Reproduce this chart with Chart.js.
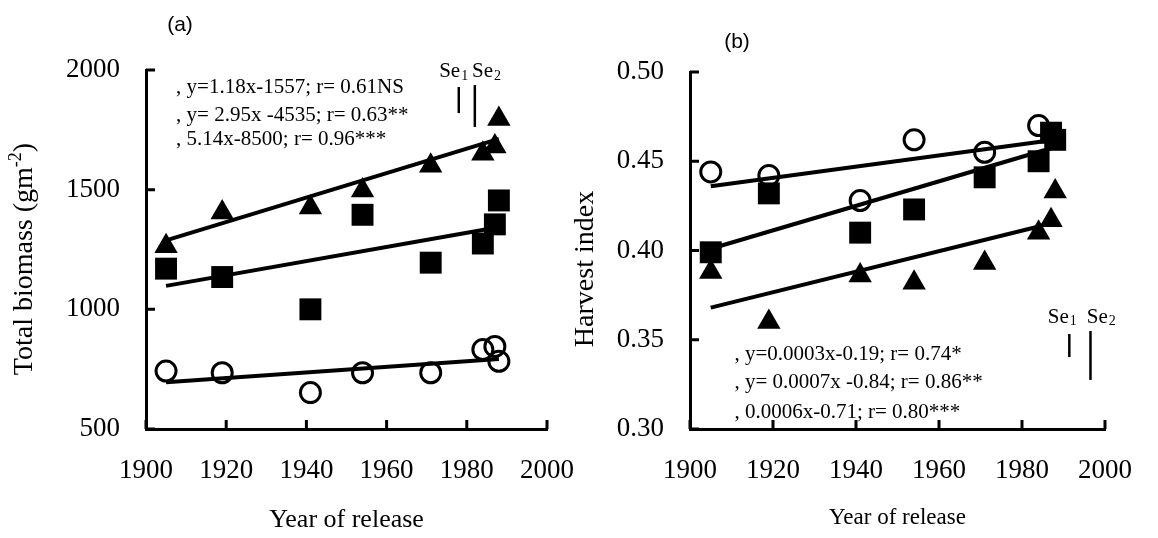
<!DOCTYPE html>
<html>
<head>
<meta charset="utf-8">
<script src="https://cdn.jsdelivr.net/npm/chart.js@4.4.1/dist/chart.umd.min.js"></script>
<style>
  html, body { margin: 0; padding: 0; background: #fff; }
  body { width: 1158px; height: 538px; position: relative; overflow: hidden; }
  .panel { position: absolute; top: 0; }
  #wrapA { left: 0; }
  #wrapB { left: 560px; }
</style>
</head>
<body>
<div class="panel" id="wrapA"><canvas id="chartA" width="600" height="538"></canvas></div>
<div class="panel" id="wrapB"><canvas id="chartB" width="598" height="538"></canvas></div>
<script>
const years = [1905, 1919, 1941, 1954, 1971, 1984, 1987, 1988];
const xTicks = [1900, 1920, 1940, 1960, 1980, 2000];

// (a) total biomass (g m-2)
const yTicksA = [500, 1000, 1500, 2000];
const triangleA = [1264, 1405, 1425, 1497, 1600, 1650, 1680, 1795];
const squareA = [1170, 1135, 1000, 1395, 1195, 1275, 1355, 1455];
const circleA = [742, 735, 652, 735, 735, 832, 845, 783];
const fitTriangleA = [[1905, 1288], [1988, 1712]];
const fitSquareA = [[1905, 1098], [1985, 1335]];
const fitCircleA = [[1905, 695], [1988, 792]];
const eqA = [', y=1.18x-1557; r= 0.61NS', ', y= 2.95x -4535; r= 0.63**', ', 5.14x-8500; r= 0.96***'];

// (b) harvest index
const yTicksB = [0.30, 0.35, 0.40, 0.45, 0.50];
const triangleB = [0.388, 0.360, 0.386, 0.382, 0.393, 0.410, 0.417, 0.433];
const squareB = [0.399, 0.432, 0.410, 0.423, 0.441, 0.450, 0.466, 0.462];
const circleB = [0.444, 0.442, 0.428, 0.462, 0.455, 0.470, null, null];
const fitTriangleB = [[1905, 0.368], [1985, 0.414]];
const fitSquareB = [[1905, 0.401], [1988, 0.458]];
const fitCircleB = [[1905, 0.436], [1988, 0.462]];
const eqB = [', y=0.0003x-0.19; r= 0.74*', ', y= 0.0007x -0.84; r= 0.86**', ', 0.0006x-0.71; r= 0.80***'];

const serif = '"Liberation Serif", "Times New Roman", serif';

function pts(vals) {
  return years.map((x, i) => ({ x: x, y: vals[i] })).filter(p => p.y !== null);
}
function seg(line) {
  return line.map(p => ({ x: p[0], y: p[1] }));
}

function textSub(ctx, base, sub, x, y, size) {
  ctx.font = size + 'px ' + serif;
  ctx.textAlign = 'left';
  ctx.textBaseline = 'middle';
  ctx.fillText(base, x, y);
  const w = ctx.measureText(base).width;
  ctx.font = Math.round(size * 0.68) + 'px ' + serif;
  ctx.fillText(sub, x + w + 1, y + size * 0.22);
}

const decor = {
  id: 'decor',
  afterDraw(chart, args, o) {
    const ctx = chart.ctx;
    const xs = chart.scales.x, ys = chart.scales.y;
    const area = chart.chartArea;
    ctx.save();
    ctx.strokeStyle = '#000';
    ctx.fillStyle = '#000';

    // inward tick marks
    ctx.lineWidth = 3;
    ctx.beginPath();
    xTicks.forEach(v => {
      const px = xs.getPixelForValue(v);
      ctx.moveTo(px, area.bottom);
      ctx.lineTo(px, area.bottom - 9);
    });
    o.yTicks.forEach(v => {
      const py = ys.getPixelForValue(v);
      ctx.moveTo(area.left, py);
      ctx.lineTo(area.left + 9, py);
    });
    ctx.stroke();

    // equations
    ctx.font = '21px ' + serif;
    ctx.textAlign = 'left';
    ctx.textBaseline = 'middle';
    o.eqs.forEach((t, i) => {
      ctx.fillText(t, xs.getPixelForValue(o.eqX), ys.getPixelForValue(o.eqY[i]));
    });

    // standard errors
    o.se.forEach((s, i) => {
      textSub(ctx, 'Se', String(i + 1), xs.getPixelForValue(s.lx), ys.getPixelForValue(s.ly), 21);
      ctx.lineWidth = 2.5;
      ctx.beginPath();
      const bx = xs.getPixelForValue(s.bx);
      ctx.moveTo(bx, ys.getPixelForValue(s.top));
      ctx.lineTo(bx, ys.getPixelForValue(s.bottom));
      ctx.stroke();
    });

    // panel letter
    ctx.font = '21px "Liberation Sans", Arial, sans-serif';
    ctx.textAlign = 'center';
    ctx.textBaseline = 'middle';
    ctx.fillText(o.letter, o.letterX, o.letterY);

    // y axis title
    ctx.translate(o.titleX, o.titleY);
    ctx.rotate(-Math.PI / 2);
    ctx.textBaseline = 'middle';
    ctx.textAlign = 'left';
    const big = '28px ' + serif, small = '18px ' + serif;
    ctx.font = big;
    const w1 = ctx.measureText(o.yTitle[0]).width;
    const w3 = o.yTitle[2] ? ctx.measureText(o.yTitle[2]).width : 0;
    ctx.font = small;
    const w2 = o.yTitle[1] ? ctx.measureText(o.yTitle[1]).width : 0;
    let x0 = -(w1 + w2 + w3) / 2;
    ctx.font = big;
    ctx.fillText(o.yTitle[0], x0, 0);
    if (o.yTitle[1]) {
      ctx.font = small;
      ctx.fillText(o.yTitle[1], x0 + w1, -9);
      ctx.font = big;
      ctx.fillText(o.yTitle[2], x0 + w1 + w2, 0);
    }
    ctx.restore();
  }
};

function makeChart(id, cfg) {
  const datasets = [
    { data: seg(cfg.fits[0]), showLine: true, borderColor: '#000', borderWidth: 4, pointRadius: 0 },
    { data: seg(cfg.fits[1]), showLine: true, borderColor: '#000', borderWidth: 4, pointRadius: 0 },
    { data: seg(cfg.fits[2]), showLine: true, borderColor: '#000', borderWidth: 4, pointRadius: 0 },
    { data: pts(cfg.tri), pointStyle: 'triangle', pointRadius: 13.5, backgroundColor: '#000', borderWidth: 0 },
    { data: pts(cfg.sq), pointStyle: 'rect', pointRadius: 15.5, backgroundColor: '#000', borderWidth: 0 },
    { data: pts(cfg.cir), pointStyle: 'circle', pointRadius: 10, backgroundColor: 'rgba(0,0,0,0)', borderColor: '#000', borderWidth: 3 }
  ];
  return new Chart(document.getElementById(id), {
    type: 'scatter',
    data: { datasets: datasets },
    options: {
      responsive: false,
      animation: false,
      layout: { padding: { left: 0, right: cfg.padRight, top: cfg.padTop, bottom: 0 } },
      scales: {
        x: {
          type: 'linear',
          min: 1900,
          max: 2000,
          afterBuildTicks: s => { s.ticks = xTicks.map(v => ({ value: v })); },
          afterFit: s => { s.height = 538 - 429; },
          grid: { display: false, drawTicks: false },
          border: { display: true, color: '#000', width: 3 },
          ticks: { color: '#000', padding: 26, font: { family: serif, size: 27 }, callback: v => String(v) },
          title: { display: true, text: 'Year of release', color: '#000', font: { family: serif, size: cfg.xTitleSize }, padding: { top: 0, bottom: cfg.xTitlePad } }
        },
        y: {
          type: 'linear',
          min: cfg.yTicks[0],
          max: cfg.yTicks[cfg.yTicks.length - 1],
          afterBuildTicks: s => { s.ticks = cfg.yTicks.map(v => ({ value: v })); },
          afterFit: s => { s.width = cfg.yWidth; },
          grid: { display: false, drawTicks: false },
          border: { display: true, color: '#000', width: 3 },
          ticks: { color: '#000', padding: 26, font: { family: serif, size: 27 }, callback: cfg.fmt }
        }
      },
      plugins: {
        legend: { display: false },
        tooltip: { enabled: false },
        decor: cfg.decor
      }
    },
    plugins: [decor]
  });
}

makeChart('chartA', {
  tri: triangleA, sq: squareA, cir: circleA,
  fits: [fitTriangleA, fitSquareA, fitCircleA],
  yTicks: yTicksA, fmt: v => String(v),
  padRight: 42, padTop: 70, yWidth: 146,
  xTitleSize: 26, xTitlePad: 2,
  decor: {
    yTicks: yTicksA,
    eqs: eqA, eqX: 1907.5, eqY: [1929, 1812, 1708],
    se: [
      { lx: 1973.1, ly: 1992, bx: 1978, top: 1929, bottom: 1820 },
      { lx: 1981.3, ly: 1992, bx: 1982, top: 1937, bottom: 1762 }
    ],
    letter: '(a)', letterX: 180, letterY: 25,
    yTitle: ['Total biomass (gm', '-2', ')'], titleX: 25, titleY: 259
  }
});

makeChart('chartB', {
  tri: triangleB, sq: squareB, cir: circleB,
  fits: [fitTriangleB, fitSquareB, fitCircleB],
  yTicks: yTicksB, fmt: v => v.toFixed(2),
  padRight: 40, padTop: 72, yWidth: 130,
  xTitleSize: 23, xTitlePad: 6,
  decor: {
    yTicks: yTicksB,
    eqs: eqB, eqX: 1910.7, eqY: [0.3415, 0.3258, 0.3095],
    se: [
      { lx: 1986.2, ly: 0.3627, bx: 1991.4, top: 0.3532, bottom: 0.3403 },
      { lx: 1995.6, ly: 0.3627, bx: 1996.5, top: 0.3549, bottom: 0.3275 }
    ],
    letter: '(b)', letterX: 177, letterY: 42,
    yTitle: ['Harvest index'], titleX: 26, titleY: 269
  }
});
</script>
</body>
</html>
